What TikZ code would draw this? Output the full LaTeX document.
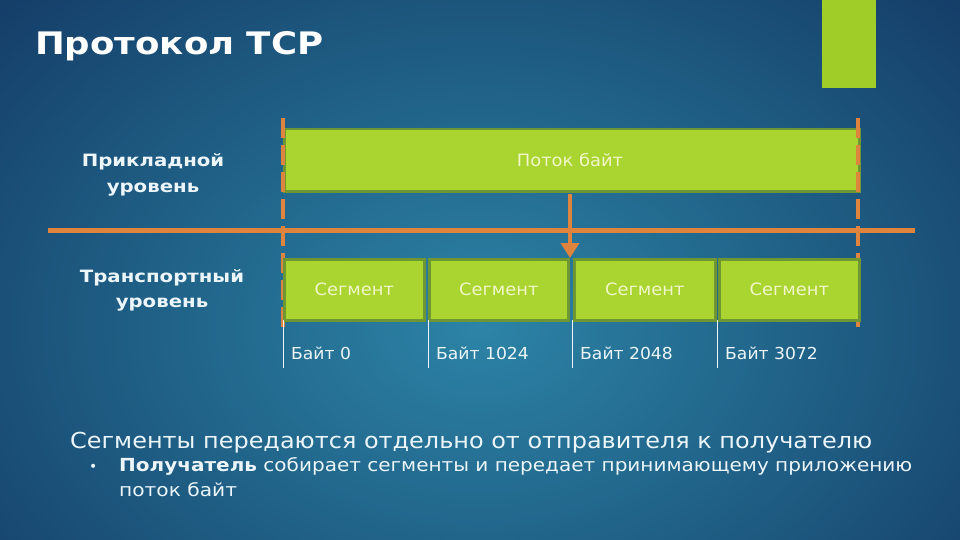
\documentclass[tikz,border=0pt]{standalone}
\usepackage{fontspec}
\setmainfont{DejaVu Sans}
\usetikzlibrary{arrows.meta}
\definecolor{bgin}{RGB}{44,132,166}
\definecolor{bgout}{RGB}{16,48,92}
\definecolor{lime}{RGB}{170,212,48}
\definecolor{limedark}{RGB}{110,150,50}
\definecolor{sq}{RGB}{160,205,40}
\definecolor{org}{RGB}{222,132,62}
\definecolor{paletxt}{RGB}{240,246,200}
\definecolor{wtxt}{RGB}{236,246,250}
\newcommand{\wide}[2]{\resizebox{#1pt}{\height}{#2}}
\tikzset{
  bar/.style={fill=lime, draw=limedark, line width=2.5pt, anchor=north west, inner sep=0pt},
  bartext/.style={text=paletxt, font=\fontsize{17}{19}\selectfont},
  orangedash/.style={draw=org, line width=4pt, dash pattern=on 20pt off 7pt},
  orangeline/.style={draw=org, line width=5pt},
  tick/.style={draw=wtxt, line width=1pt},
  bytelbl/.style={text=wtxt, anchor=base west, inner sep=0pt, font=\fontsize{16.5}{18}\selectfont},
  layerlbl/.style={text=wtxt, anchor=base, inner sep=0pt, font=\bfseries\fontsize{17}{20}\selectfont},
  bodytxt/.style={anchor=base west, inner sep=0pt, text=wtxt},
}
\begin{document}
\begin{tikzpicture}[x=1pt,y=-1pt]
\useasboundingbox (0,0) rectangle (960,540);
\shade[inner color=bgin, outer color=bgout] (-300,-250) rectangle (1260,900);
\fill[sq] (822,0) rectangle (876,88);
\node[bodytxt, text=white, font=\bfseries\fontsize{31}{36}\selectfont] (title) at (35,55) {\wide{288}{Протокол TCP}};

% top stream bar
\node[bar, minimum width=575pt, minimum height=62pt] (stream) at (283,128) {};
\node[bartext] (streamtxt) at (570,160) {\scalebox{1.05}[1]{Поток байт}};

% dashed boundaries
\coordinate (ltop) at (283,118);
\coordinate (lbot) at (283,330);
\coordinate (rtop) at (858,118);
\coordinate (rbot) at (858,328);
\draw[orangedash] (ltop) -- (lbot);
\draw[orangedash] (rtop) -- (rbot);

% separator
\coordinate (hl) at (48,230);
\coordinate (hr) at (915,230);
\draw[orangeline] (hl) -- (hr);

% segments
\node[bar, minimum width=140pt, minimum height=61pt] (s1) at (283,258) {};
\node[bar, minimum width=139pt, minimum height=61pt] (s2) at (428,258) {};
\node[bar, minimum width=141pt, minimum height=61pt] (s3) at (573,258) {};
\node[bar, minimum width=140pt, minimum height=61pt] (s4) at (718,258) {};
\foreach \s in {s1,s2,s3,s4}{
  \node[bartext] at (\s.center) {\scalebox{1.05}[1]{Сегмент}};
}

% arrow
\coordinate (atop) at (570,194);
\draw[draw=org, line width=4pt, -{Triangle[length=15pt,width=18pt]}] (atop) -- (s3.north west -| atop);

% ticks and byte labels
\foreach \x/\t [count=\i] in {283/0,428/1024,572/2048,717/3072}{
  \coordinate (tt\i) at (\x,320);
  \coordinate (tb\i) at (\x,368);
  \draw[tick] (tt\i) -- (tb\i);
  \node[bytelbl] (b\i) at (\x+8,359) {\scalebox{1.04}[1]{Байт \t}};
}

% layer labels
\node[layerlbl] (app1) at (153,167) {\scalebox{1.16}[1]{Прикладной}};
\node[layerlbl] (app2) at (153,192) {\scalebox{1.16}[1]{уровень}};
\node[layerlbl] (trn1) at (162,282) {\scalebox{1.16}[1]{Транспортный}};
\node[layerlbl] (trn2) at (162,307) {\scalebox{1.16}[1]{уровень}};

% bottom text
\node[bodytxt, font=\fontsize{22}{24}\selectfont] (l1) at (70,448) {\wide{802}{Сегменты передаются отдельно от отправителя к получателю}};
\node[bodytxt, font=\fontsize{14}{15}\selectfont] (bul) at (89,471) {•};
\node[bodytxt, font=\fontsize{18}{20}\selectfont] (l2) at (119,471) {\wide{793}{\textbf{Получатель} собирает сегменты и передает принимающему приложению}};
\node[bodytxt, font=\fontsize{18}{20}\selectfont] (l3) at (119,496) {\scalebox{1.12}[1]{поток байт}};
\end{tikzpicture}
\end{document}
